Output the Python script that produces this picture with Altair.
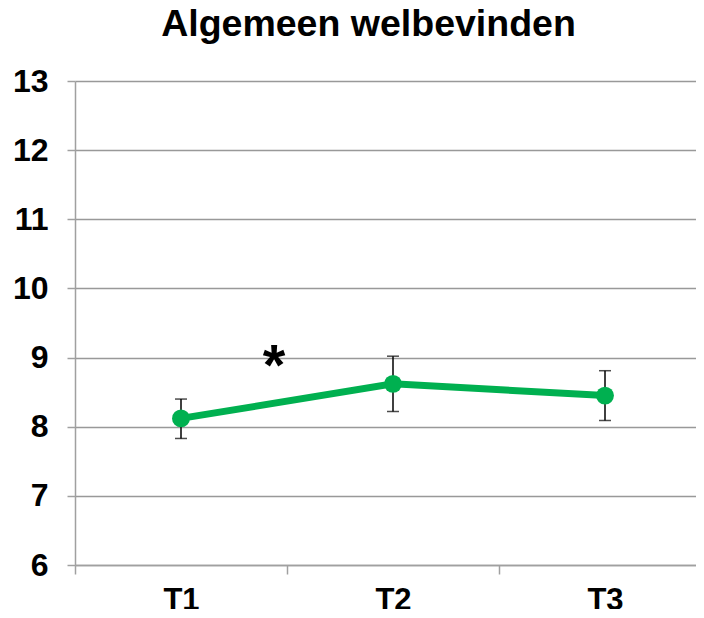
import altair as alt
import pandas as pd

categories = ["T1", "T2", "T3"]
means = [8.12, 8.62, 8.45]
lower = [7.83, 8.22, 8.09]
upper = [8.40, 9.02, 8.81]
y_ticks = [6, 7, 8, 9, 10, 11, 12, 13]

df = pd.DataFrame({"tijd": categories, "gem": means, "lo": lower, "hi": upper})
star = pd.DataFrame({"tijd": ["T1"], "y": [9.0], "txt": ["*"]})

FONT = "Liberation Sans"
x = alt.X("tijd:N", sort=categories, title=None,
          scale=alt.Scale(paddingInner=0, paddingOuter=0, range=[0, 636]),
          axis=alt.Axis(labelAngle=0, labelFont=FONT, labelFontSize=31, labelFontWeight="bold",
                        labelColor="black", labelPadding=11, tickBand="extent", tickSize=9,
                        tickColor="#a0a0a0", domainColor="#a0a0a0", domainWidth=1.5,
                        tickWidth=1.5, grid=False))
yscale = alt.Scale(domain=[6, 13], nice=False, zero=False)
yaxis = alt.Axis(values=y_ticks, labelFont=FONT, labelFontSize=32, labelFontWeight="bold",
                 labelColor="black", labelPadding=19, tickSize=8, tickColor="#a0a0a0",
                 tickWidth=1.5, domainColor="#a0a0a0", domainWidth=1.5,
                 gridColor="#999999", gridWidth=1.3, format="d")

base = alt.Chart(df)
line = base.mark_line(color="#00b050", strokeWidth=7).encode(
    x=x, y=alt.Y("gem:Q", scale=yscale, axis=yaxis, title=None))
pts = base.mark_point(color="#00b050", filled=True, opacity=1, size=320).encode(
    x=x, y=alt.Y("gem:Q", scale=yscale))
rule = base.mark_rule(color="black", strokeWidth=1.5).encode(
    x=x, y=alt.Y("lo:Q", scale=yscale), y2="hi:Q")
cap_lo = base.mark_tick(color="black", thickness=1.5, size=12).encode(
    x=x, y=alt.Y("lo:Q", scale=yscale))
cap_hi = base.mark_tick(color="black", thickness=1.5, size=12).encode(
    x=x, y=alt.Y("hi:Q", scale=yscale))
star_t = alt.Chart(star).mark_text(font=FONT, fontSize=58, fontWeight="bold", dx=93, dy=10,
                                   color="black").encode(
    x=x, y=alt.Y("y:Q", scale=yscale), text="txt:N")

chart = alt.layer(rule, cap_lo, cap_hi, line, pts, star_t).properties(
    width=621, height=484,
    title=alt.TitleParams("Algemeen welbevinden", font=FONT, fontSize=37.5, fontWeight="bold",
                          color="black", anchor="middle", offset=22, dx=-17),
    autosize=alt.AutoSizeParams(type="none"),
    padding={"left": 67, "top": 73, "right": 0, "bottom": 44},
).configure_view(stroke=None)

chart.save("out.html", embed_options={"renderer": "svg", "actions": False})
